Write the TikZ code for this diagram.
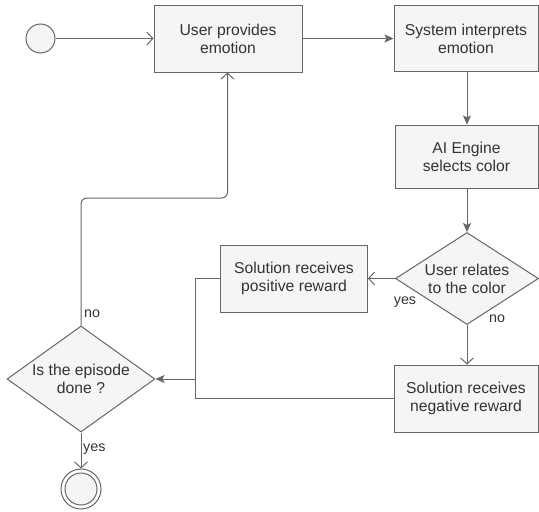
\documentclass[tikz,border=0pt]{standalone}
\usepackage{fontspec}
\setmainfont{Liberation Sans}
\usetikzlibrary{shapes.geometric,arrows.meta}
\definecolor{stroke}{HTML}{666666}
\definecolor{boxfill}{HTML}{F5F5F5}
\definecolor{ink}{HTML}{333333}
\tikzset{
  base/.style={draw=stroke, fill=boxfill, line width=1pt, text=ink,
    font=\fontsize{15.7}{18}\selectfont, align=center, inner sep=0pt},
  stepbox/.style={base, rectangle, minimum width=146pt, minimum height=66pt},
  decision/.style={base, diamond, aspect=1.5},
  startnode/.style={draw=stroke, fill=boxfill, line width=1pt, circle, minimum size=29pt, inner sep=0pt},
  endouter/.style={draw=stroke, fill=white, line width=1pt, circle, minimum size=40pt, inner sep=0pt},
  endinner/.style={draw=stroke, fill=boxfill, line width=1pt, circle, minimum size=32pt, inner sep=0pt},
  flow/.style={draw=stroke, line width=1pt},
  openarrow/.style={flow, -{Straight Barb[length=6pt,width=13pt,line width=1pt]}},
  fillarrow/.style={flow, -{Stealth[length=9pt,width=8pt,inset=2pt]}},
  edgelabel/.style={text=ink, font=\fontsize{14.3}{16}\selectfont, inner sep=0pt},
}
\begin{document}
\begin{tikzpicture}[x=1pt,y=-1pt]
  \useasboundingbox (0,0) rectangle (539,512);

  % nodes
  \node[startnode] (start) at (40.5,38.5) {};
  \node[stepbox, minimum width=148pt, minimum height=67pt] (provide) at (228,38.5) {User provides\\emotion};
  \node[stepbox, minimum width=144pt] (interpret) at (466,38.5) {System interprets\\emotion};
  \node[stepbox, minimum width=143pt, minimum height=63pt] (engine) at (466.5,156.5) {AI Engine\\selects color};
  \node[decision, minimum width=143pt, minimum height=92pt] (relates) at (467,278.5) {User relates\\to the color};
  \node[stepbox, minimum width=147pt, minimum height=67pt] (positive) at (294,278.5) {Solution receives\\positive reward};
  \node[stepbox, minimum width=144pt, minimum height=67pt] (negative) at (466,398.5) {Solution receives\\negative reward};
  \node[decision, minimum width=148pt, minimum height=106pt] (done) at (81,379) {Is the episode\\done ?};
  \node[endouter] (finish) at (81,489) {};
  \node[endinner] (finishin) at (finish.center) {};

  \coordinate (merge) at (195,379);
  \coordinate (bendA) at (81,198);
  \coordinate (bendB) at (227.5,198);

  % connectors
  \draw[openarrow] (start) -- (provide);
  \draw[fillarrow] (provide) -- (interpret);
  \draw[fillarrow] (interpret.south -| relates.north) -- (engine.north -| relates.north);
  \draw[fillarrow] (engine.south -| relates.north) -- (relates.north);
  \draw[openarrow] (relates.west) -- (positive.east);
  \draw[openarrow] (relates.south) -- (negative.north -| relates.south);
  \draw[flow] (positive.west) -| (merge);
  \draw[flow] (negative.west) -| (merge);
  \draw[fillarrow] (merge) -- (done.east);
  \draw[openarrow, rounded corners=6pt] (done.north) -- (bendA) -- (bendB) -- (provide.south -| bendB);
  \draw[openarrow] (done.south) -- (finish.north);

  % edge labels
  \node[edgelabel] (lblyes1) at (405,302) {yes};
  \node[edgelabel] (lblno1) at (497,319) {no};
  \node[edgelabel, anchor=west] (lblno2) at (84,314) {no};
  \node[edgelabel, anchor=west] (lblyes2) at (83,449) {yes};
\end{tikzpicture}
\end{document}
